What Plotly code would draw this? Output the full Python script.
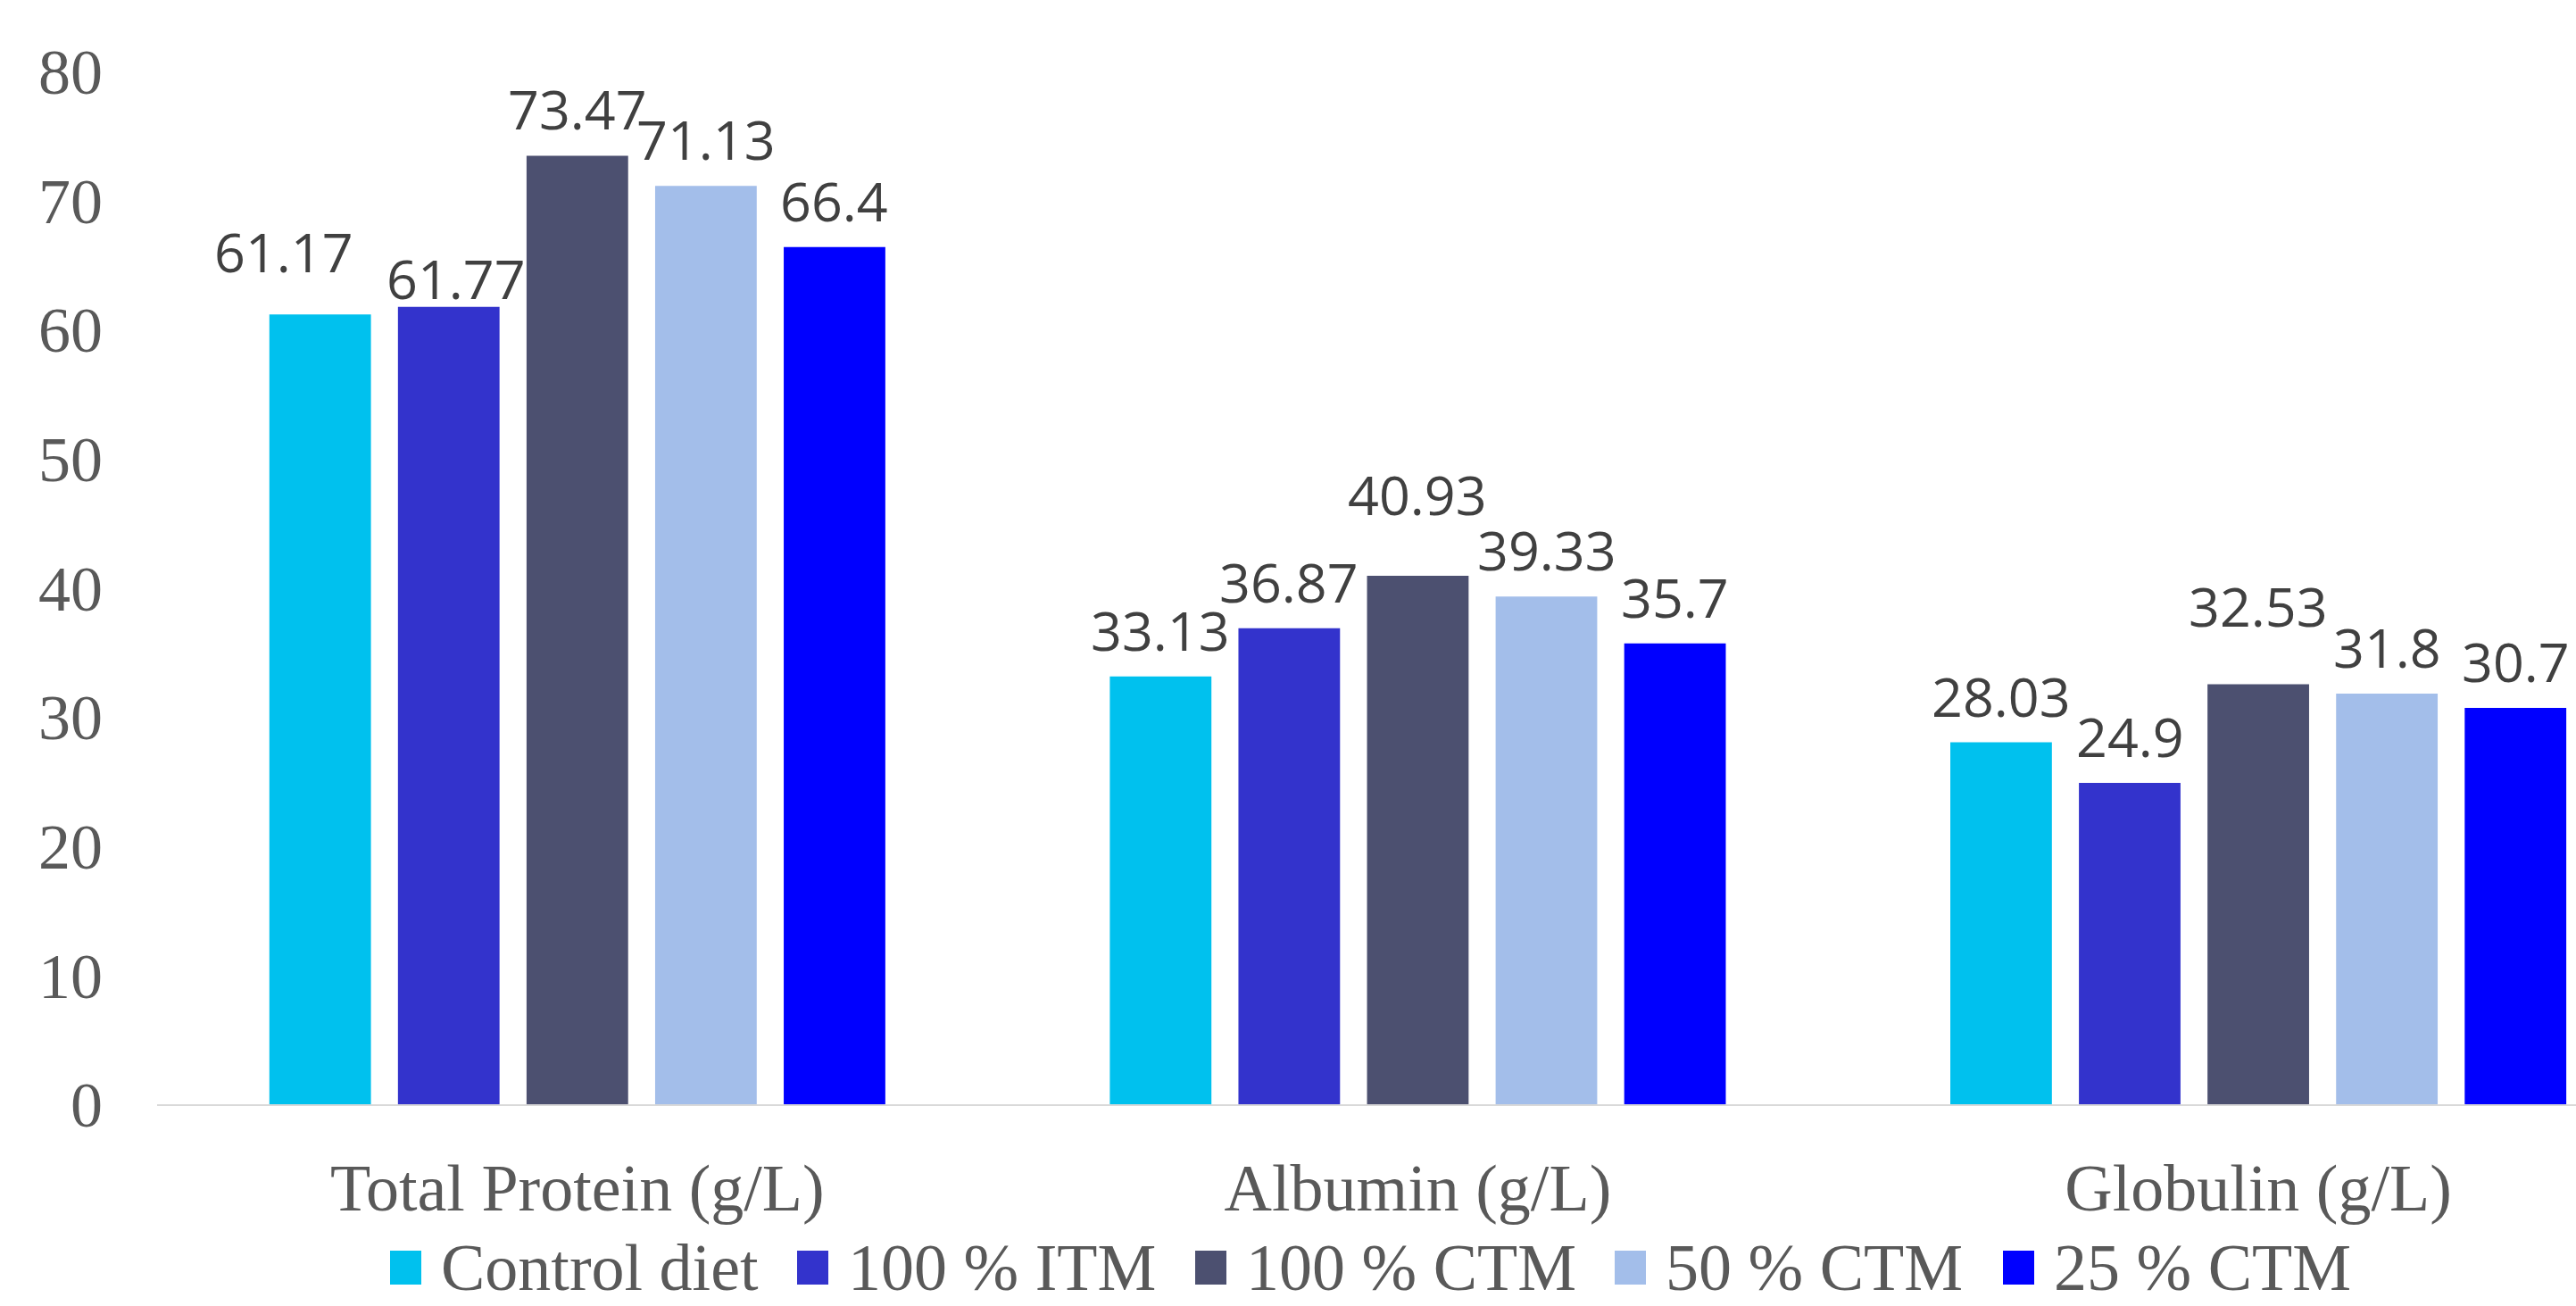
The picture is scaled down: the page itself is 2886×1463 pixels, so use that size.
import plotly.graph_objects as go

# ---- data -------------------------------------------------------------
categories = ["Total Protein (g/L)", "Albumin (g/L)", "Globulin (g/L)"]
series_names = ["Control diet", "100 % ITM", "100 % CTM", "50 % CTM", "25 % CTM"]

control_diet = [61.17, 33.13, 28.03]
itm_100 = [61.77, 36.87, 24.9]
ctm_100 = [73.47, 40.93, 32.53]
ctm_50 = [71.13, 39.33, 31.8]
ctm_25 = [66.4, 35.7, 30.7]

y_ticks = [0, 10, 20, 30, 40, 50, 60, 70, 80]

# ---- styling ----------------------------------------------------------
series_values = [control_diet, itm_100, ctm_100, ctm_50, ctm_25]
colors = ["#00C1EE", "#3333CC", "#4C5070", "#A3BEEA", "#0000FF"]

W, H = 2886, 1463
M_L, M_R, M_T, M_B = 176, 0, 80, 226
X_RANGE = [-0.5, 2.378]
BARGAP, BARGROUPGAP = 0.235, 0.21

SERIF = "Liberation Serif, Times New Roman, serif"
LABEL_FONT = dict(family="Open Sans, Noto Sans, sans-serif", size=61, color="#404040")
AXIS_GREY = "#595959"

# pixel nudges (dx, dy) for value labels that are moved to avoid collisions
label_nudges = {(0, 0): (-41, 18), (1, 0): (8, -20), (2, 1): (0, 39), (2, 2): (0, 36)}
LABEL_GAP = 9

# legend layout: left edge (px) of each swatch
legend_swatch_left = [437, 893, 1339, 1809, 2244]
LEGEND_CY = 1420
SWATCH_W, SWATCH_H = 35, 38

fig = go.Figure()
for name, vals, col in zip(series_names, series_values, colors):
    fig.add_trace(go.Bar(
        name=name, x=categories, y=vals,
        marker=dict(color=col, line=dict(width=0)),
        showlegend=False,
    ))

plot_w = W - M_L - M_R
plot_h = H - M_T - M_B
n = len(series_names)
slot_px = plot_w / (X_RANGE[1] - X_RANGE[0]) * (1 - BARGAP) / n

annotations = []
for i, vals in enumerate(series_values):
    for j, v in enumerate(vals):
        dx, dy = label_nudges.get((i, j), (0, 0))
        annotations.append(dict(
            x=categories[j], y=v, xref="x", yref="y",
            text=f"{v:g}", showarrow=False,
            xanchor="center", yanchor="bottom",
            xshift=(i - (n - 1) / 2) * slot_px + dx,
            yshift=LABEL_GAP + dy,
            font=LABEL_FONT,
        ))

# custom legend with large square swatches
shapes = []
for name, col, left in zip(series_names, colors, legend_swatch_left):
    x0 = (left - M_L) / plot_w
    x1 = (left + SWATCH_W - M_L) / plot_w
    y0 = (H - M_B - (LEGEND_CY + SWATCH_H / 2)) / plot_h
    y1 = (H - M_B - (LEGEND_CY - SWATCH_H / 2)) / plot_h
    shapes.append(dict(type="rect", xref="paper", yref="paper",
                       x0=x0, x1=x1, y0=y0, y1=y1,
                       fillcolor=col, line=dict(width=0)))
    annotations.append(dict(
        x=(left + SWATCH_W + 20 - M_L) / plot_w,
        y=(H - M_B - LEGEND_CY) / plot_h,
        xref="paper", yref="paper", xanchor="left", yanchor="middle",
        text=name, showarrow=False,
        font=dict(family=SERIF, size=74, color=AXIS_GREY),
    ))

fig.update_layout(
    width=W, height=H,
    margin=dict(l=M_L, r=M_R, t=M_T, b=M_B, pad=0),
    paper_bgcolor="white", plot_bgcolor="white",
    barmode="group", bargap=BARGAP, bargroupgap=BARGROUPGAP,
    showlegend=False,
    annotations=annotations, shapes=shapes,
    xaxis=dict(
        range=X_RANGE, showgrid=False, zeroline=False,
        showline=True, linecolor="#D9D9D9", linewidth=2,
        ticks="", ticklabelstandoff=28,
        tickfont=dict(family=SERIF, size=74, color=AXIS_GREY),
    ),
    yaxis=dict(
        range=[0, 80], tickvals=y_ticks, showgrid=False, zeroline=False,
        showline=False, ticks="", ticklabelstandoff=60,
        tickfont=dict(family=SERIF, size=72, color=AXIS_GREY),
    ),
)

fig.write_html("out.html")
